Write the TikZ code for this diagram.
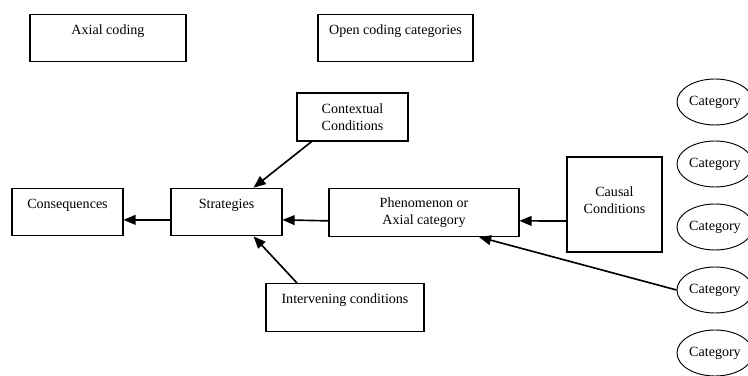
\documentclass[tikz,border=0pt]{standalone}
\usepackage{fontspec}
\setmainfont{Liberation Serif}
\usetikzlibrary{arrows, shapes, positioning}

\begin{document}
\begin{tikzpicture}[x=0.03cm, y=-0.03cm, ->, >=triangle 45, line width=1.4pt,
	font=\fontsize{12}{14.5}\selectfont,
	box/.style={draw, line width=0.9pt, rectangle, inner ysep=0pt, text height=17pt, text depth=23.8pt},
	pair/.style={draw, line width=0.9pt, rectangle, align=center, minimum height=1.44cm},
	cat/.style={draw, line width=0.8pt, ellipse, inner sep=0pt, minimum width=2.28cm, minimum height=1.38cm}]

	\useasboundingbox (0,0) rectangle (748,376);
	\clip (0,0) rectangle (748,376);

	\node[box, minimum width=4.68cm]	(axial)		at	(108, 38)		{Axial coding};
	\node[box, minimum width=4.65cm]	(open)		at	(395.5, 38)		{Open coding categories};
	\node[pair, minimum width=3.33cm]	(context)	at	(352.5, 117)	{Contextual\\Conditions};
	\node[box, minimum width=3.33cm]	(conseq)	at	(67.5, 212)		{Consequences};
	\node[box, minimum width=3.33cm]	(strat)		at	(226.5, 212)	{Strategies};
	\node[pair, minimum width=5.7cm]	(phen)		at	(424, 212.5)	{Phenomenon or\\Axial category};
	\node[pair, minimum width=2.85cm, minimum height=2.85cm, text depth=8pt]	(causal)	at	(614.5, 204.5)	{Causal\\Conditions};
	\node[box, minimum width=4.74cm]	(interv)	at	(345, 307.5)	{Intervening conditions};

	\foreach \y [count=\i] in {102, 164, 227, 290, 353}
		\node[cat]	(cat\i)	at	(715, \y)	{Category};

	\path	(strat.188)		edge	(conseq.352)
			(phen.185)		edge	(strat.352)
			(causal.199)	edge	(phen.355)
			(context.211)	edge	(strat.42)
			(interv.153)	edge	(strat.318)
			(cat4.west)		edge	(phen.336);

\end{tikzpicture}
\end{document}
